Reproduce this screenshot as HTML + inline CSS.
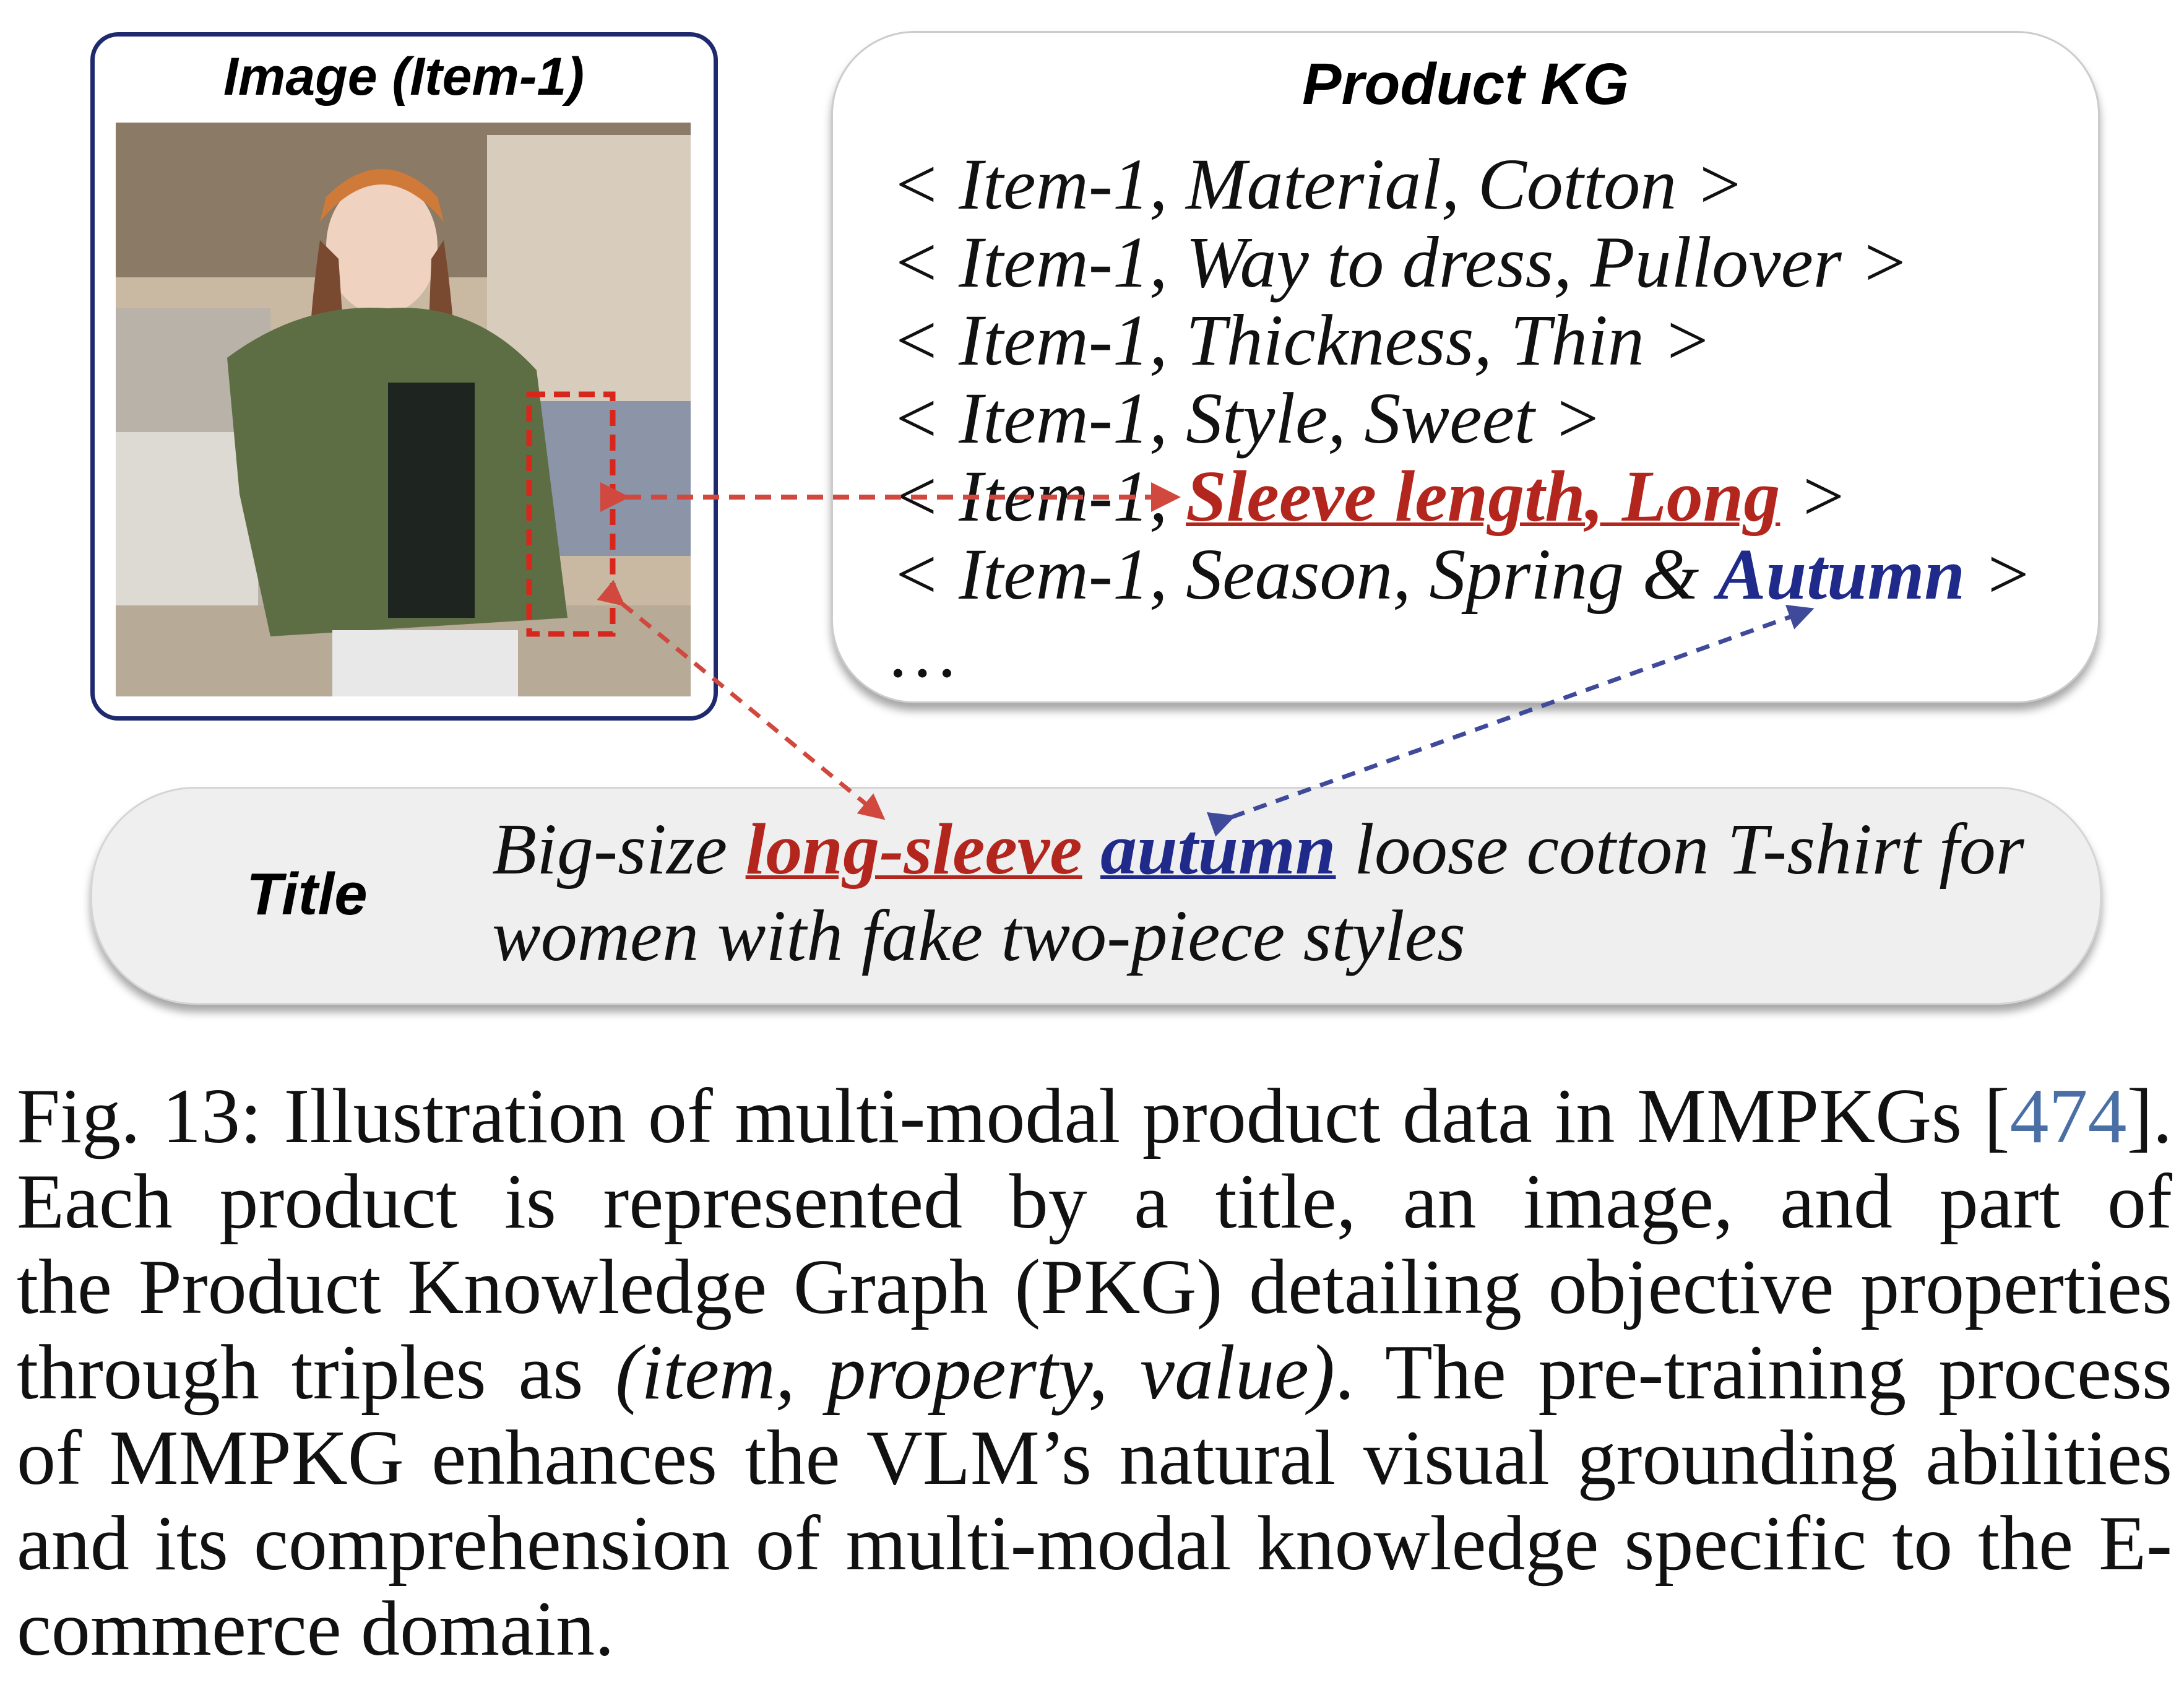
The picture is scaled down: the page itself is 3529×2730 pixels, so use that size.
<!DOCTYPE html>
<html><head><meta charset="utf-8"><style>
html,body{margin:0;padding:0;background:#fff;}
body{width:3529px;height:2730px;position:relative;overflow:hidden;}
.abs{position:absolute;}
.sans{font-family:"Liberation Sans",sans-serif;font-weight:bold;font-style:italic;}
.ser{font-family:"Liberation Serif",serif;font-style:italic;}
.kg div{position:absolute;left:1440px;font-size:118px;white-space:nowrap;color:#111;}
.red{color:#b3261e;font-weight:bold;text-decoration:underline;text-decoration-thickness:6px;}
.blue{color:#1f2a8a;font-weight:bold;}
.cap{position:absolute;left:27px;width:3483px;font-family:"Liberation Serif",serif;font-size:126px;line-height:138px;color:#111;}
.cap div{text-align:justify;text-align-last:justify;white-space:nowrap;height:138px;}
.cap div.last{text-align-last:left;}
</style></head><body>
<div class="abs" style="left:146px;top:52px;width:1000px;height:1098px;border:7px solid #1f2a6e;border-radius:45px;"></div>
<div class="abs sans" style="left:146px;top:75px;width:1013px;text-align:center;font-size:86px;">Image (Item-1)</div>
<svg class="abs" style="left:187px;top:198px" width="929" height="927">
<rect width="929" height="927" fill="#c9b8a2"/>
<rect x="0" y="0" width="929" height="250" fill="#8a7a66"/>
<rect x="600" y="20" width="329" height="500" fill="#d8cdbd"/>
<rect x="0" y="300" width="250" height="627" fill="#b9b2a8"/>
<rect x="0" y="500" width="230" height="300" fill="#dcdad2"/>
<rect x="620" y="450" width="309" height="250" fill="#8c95a8"/>
<rect x="0" y="780" width="929" height="147" fill="#b7aa96"/>
<ellipse cx="430" cy="200" rx="90" ry="110" fill="#f0d2c0"/>
<path d="M330 160 Q430 40 530 160 L520 120 Q430 30 340 120Z" fill="#d07a3a"/>
<path d="M330 190 Q300 400 320 520 L380 520 L360 220Z" fill="#7a4a30"/>
<path d="M530 190 Q560 400 540 480 L500 480 L510 220Z" fill="#7a4a30"/>
<path d="M180 380 Q300 290 440 300 Q580 290 680 400 L730 800 L250 830 L200 600Z" fill="#5e6e44"/>
<rect x="440" y="420" width="140" height="380" fill="#1e2420"/>
<rect x="350" y="820" width="300" height="107" fill="#e8e8e8"/>
</svg>
<div class="abs" style="left:1343px;top:50px;width:2044px;height:1080px;border:3px solid #ccc;border-radius:135px;box-shadow:0 12px 14px rgba(0,0,0,0.35);background:#fff;"></div>
<div class="abs sans" style="left:1343px;top:82px;width:2050px;text-align:center;font-size:95px;">Product KG</div>
<div class="kg ser">
<div style="top:230px">&lt; Item-1, Material, Cotton &gt;</div>
<div style="top:356px">&lt; Item-1, Way to dress, Pullover &gt;</div>
<div style="top:482px">&lt; Item-1, Thickness, Thin &gt;</div>
<div style="top:608px">&lt; Item-1, Style, Sweet &gt;</div>
<div style="top:734px">&lt; Item-1, <span class="red">Sleeve length, Long</span> &gt;</div>
<div style="top:860px">&lt; Item-1, Season, Spring &amp; <span class="blue">Autumn</span> &gt;</div>
<div style="top:986px">…</div>
</div>
<div class="abs" style="left:146px;top:1271px;width:3244px;height:346px;border:3px solid #d5d5d5;border-radius:170px;background:#efefef;box-shadow:0 12px 14px rgba(0,0,0,0.35);"></div>
<div class="abs sans" style="left:398px;top:1390px;font-size:96px;">Title</div>
<div class="abs ser" style="left:795px;top:1302px;font-size:118px;line-height:140px;white-space:nowrap;color:#111;">Big-size <span class="red">long-sleeve</span> <span class="blue" style="text-decoration:underline;text-decoration-thickness:6px;">autumn</span> loose cotton T-shirt for<br>women with fake two-piece styles</div>
<svg class="abs" style="left:0;top:0" width="3529" height="2730">
<defs>
<marker id="ar" markerWidth="6" markerHeight="6" refX="5" refY="3" orient="auto"><path d="M0,0 L6,3 L0,6Z" fill="#d0483e"/></marker>
<marker id="ab" markerWidth="6" markerHeight="6" refX="5" refY="3" orient="auto"><path d="M0,0 L6,3 L0,6Z" fill="#3f4a9a"/></marker>
</defs>
<rect x="855" y="637" width="135" height="387" fill="none" stroke="#d8261c" stroke-width="9" stroke-dasharray="26 14"/>
<line x1="1010" y1="803" x2="1900" y2="803" stroke="#d0483e" stroke-width="8" stroke-dasharray="26 16" marker-start="url(#ar)" marker-end="url(#ar)"/>
<line x1="1005" y1="975" x2="1425" y2="1320" stroke="#d0483e" stroke-width="7" stroke-dasharray="22 16" marker-start="url(#ar)" marker-end="url(#ar)"/>
<line x1="1990" y1="1320" x2="2925" y2="985" stroke="#3f4a9a" stroke-width="7" stroke-dasharray="22 16" marker-start="url(#ab)" marker-end="url(#ab)"/>
</svg>
<div class="cap" style="top:1735px;">
<div>Fig. 13: Illustration of multi-modal product data in MMPKGs [<span style="color:#4a6fa5">474</span>].</div>
<div>Each product is represented by a title, an image, and part of</div>
<div>the Product Knowledge Graph (PKG) detailing objective properties</div>
<div>through triples as <i>(item, property, value)</i>. The pre-training process</div>
<div>of MMPKG enhances the VLM’s natural visual grounding abilities</div>
<div>and its comprehension of multi-modal knowledge specific to the E-</div>
<div class="last">commerce domain.</div>
</div>
</body></html>
